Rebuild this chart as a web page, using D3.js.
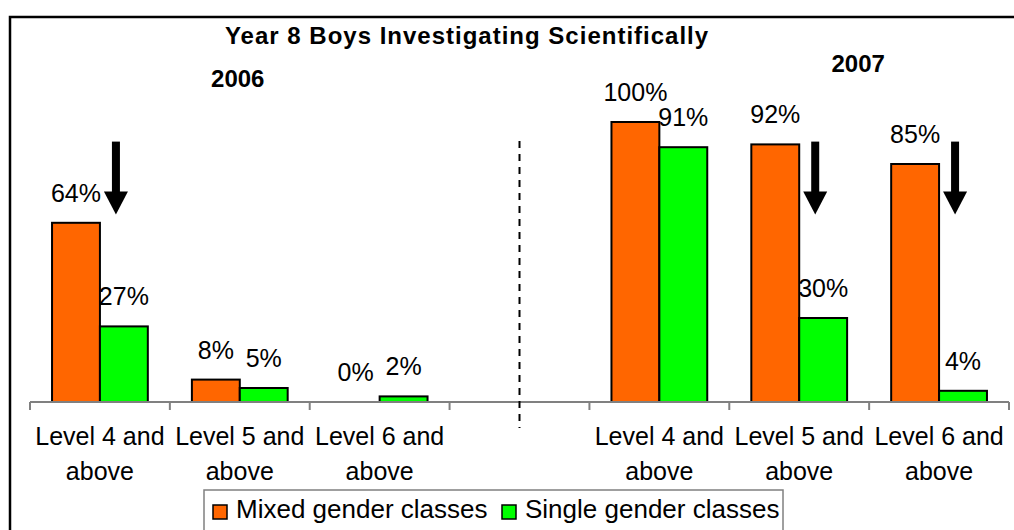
<!DOCTYPE html>
<html>
<head>
<meta charset="utf-8">
<script src="https://cdn.jsdelivr.net/npm/d3@7"></script>
<style>
  body { margin: 0; background: #fff; }
  text { font-family: "Liberation Sans", Arial, sans-serif; fill: #000; }
</style>
</head>
<body>
<div id="chart"></div>
<script>
// data
const categoryIds = ["l4_2006", "l5_2006", "l6_2006", "gap", "l4_2007", "l5_2007", "l6_2007"];
const categoryLabels = [
  ["Level 4 and", "above"], ["Level 5 and", "above"], ["Level 6 and", "above"],
  [],
  ["Level 4 and", "above"], ["Level 5 and", "above"], ["Level 6 and", "above"]
];
const mixedValues = [64, 8, 0, null, 100, 92, 85];
const singleValues = [27, 5, 2, null, 91, 30, 4];
const seriesNames = ["Mixed gender classes", "Single gender classes"];
const seriesColors = ["#FF6600", "#00FF00"];
const arrowCategories = ["l4_2006", "l5_2007", "l6_2007"];
const arrowRange = [93, 67]; // from / to, in %
const chartTitle = "Year 8 Boys Investigating Scientifically";

window.onload = () => {
  const W = 1014, H = 530;
  const margin = { left: 30, right: 5, top: 122, bottom: 128 };

  const svg = d3.select("#chart").append("svg")
    .attr("width", W).attr("height", H);

  // outer frame
  svg.append("rect")
    .attr("x", 10).attr("y", 17)
    .attr("width", W + 20).attr("height", H + 20)
    .attr("fill", "none").attr("stroke", "#000").attr("stroke-width", 2.5);

  const x = d3.scaleBand()
    .domain(categoryIds)
    .range([margin.left, W - margin.right])
    .padding(0);

  const xSub = d3.scaleBand()
    .domain(seriesNames)
    .range([0, x.bandwidth()])
    .paddingInner(0)
    .paddingOuter(0.46);

  const y = d3.scaleLinear()
    .domain([0, 100])
    .range([H - margin.bottom, margin.top]);

  const rows = categoryIds.map((id, i) => ({
    id, values: [mixedValues[i], singleValues[i]]
  }));

  // bars
  const groups = svg.selectAll(".grp")
    .data(rows.filter(d => d.values[0] !== null))
    .join("g")
    .attr("class", "grp")
    .attr("transform", d => `translate(${x(d.id)},0)`);

  groups.selectAll("rect")
    .data(d => d.values.map((v, j) => ({ v, s: seriesNames[j], c: seriesColors[j] })))
    .join("rect")
    .filter(d => d.v > 0)
    .attr("x", d => xSub(d.s))
    .attr("y", d => y(d.v))
    .attr("width", xSub.bandwidth())
    .attr("height", d => y(0) - y(d.v))
    .attr("fill", d => d.c)
    .attr("stroke", "#000")
    .attr("stroke-width", 2);

  groups.selectAll("text.val")
    .data(d => d.values.map((v, j) => ({ v, s: seriesNames[j] })))
    .join("text")
    .attr("class", "val")
    .attr("x", d => xSub(d.s) + xSub.bandwidth() / 2)
    .attr("y", d => y(d.v) - 21)
    .attr("text-anchor", "middle")
    .style("font-size", "25px")
    .text(d => d.v + "%");

  // x axis
  const axis = svg.append("g")
    .attr("transform", `translate(0,${y(0)})`);
  axis.append("line")
    .attr("x1", margin.left).attr("x2", W - margin.right)
    .attr("stroke", "#808080").attr("stroke-width", 2);
  const ticks = categoryIds.map(id => x(id)).concat([W - margin.right]);
  axis.selectAll(".tk")
    .data(ticks)
    .join("line")
    .attr("class", "tk")
    .attr("x1", d => d).attr("x2", d => d)
    .attr("y1", 0).attr("y2", 8)
    .attr("stroke", "#808080").attr("stroke-width", 2);

  categoryIds.forEach((id, i) => {
    categoryLabels[i].forEach((line, k) => {
      svg.append("text")
        .attr("x", x(id) + x.bandwidth() / 2)
        .attr("y", 445 + k * 35)
        .attr("text-anchor", "middle")
        .style("font-size", "25px")
        .text(line);
    });
  });

  // dashed separator in the empty slot
  svg.append("line")
    .attr("x1", x("gap") + x.bandwidth() / 2)
    .attr("x2", x("gap") + x.bandwidth() / 2)
    .attr("y1", 141).attr("y2", 428)
    .attr("stroke", "#000").attr("stroke-width", 2)
    .attr("stroke-dasharray", "7,6");

  // arrows
  arrowCategories.forEach(id => {
    const cx = x(id) + x.bandwidth() / 2 + 16;
    const y0 = y(arrowRange[0]), y1 = y(arrowRange[1]);
    const headLen = 23;
    svg.append("rect")
      .attr("x", cx - 4).attr("y", y0)
      .attr("width", 8).attr("height", y1 - y0 - headLen + 1)
      .attr("fill", "#000");
    svg.append("path")
      .attr("d", `M${cx - 12},${y1 - headLen} L${cx + 12},${y1 - headLen} L${cx},${y1} Z`)
      .attr("fill", "#000");
  });

  // titles
  svg.append("text")
    .attr("x", 467).attr("y", 44)
    .attr("text-anchor", "middle")
    .style("font-size", "24px").style("font-weight", "bold")
    .style("letter-spacing", "1px")
    .text(chartTitle);
  svg.append("text")
    .attr("x", x("l5_2006") + x.bandwidth() / 2 - 2).attr("y", 87)
    .attr("text-anchor", "middle")
    .style("font-size", "24px").style("font-weight", "bold")
    .text("2006");
  svg.append("text")
    .attr("x", x("l6_2007") - 11).attr("y", 72)
    .attr("text-anchor", "middle")
    .style("font-size", "24px").style("font-weight", "bold")
    .text("2007");

  // legend
  const leg = svg.append("g");
  leg.append("rect")
    .attr("x", 204).attr("y", 490)
    .attr("width", 579).attr("height", 60)
    .attr("fill", "#fff").attr("stroke", "#808080").attr("stroke-width", 1.5);
  const legX = [213, 502];
  seriesNames.forEach((name, i) => {
    leg.append("rect")
      .attr("x", legX[i]).attr("y", 505)
      .attr("width", 14).attr("height", 14)
      .attr("fill", seriesColors[i]).attr("stroke", "#000").attr("stroke-width", 1.5);
    leg.append("text")
      .attr("x", legX[i] + 23).attr("y", 518)
      .style("font-size", "26px")
      .text(name);
  });
};
</script>
</body>
</html>
